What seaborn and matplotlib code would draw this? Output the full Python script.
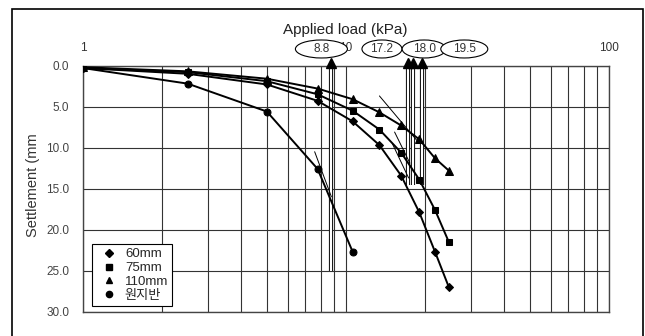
import numpy as np
import seaborn as sns
import matplotlib.pyplot as plt
from matplotlib.patches import Ellipse, Rectangle
from matplotlib.lines import Line2D
from matplotlib.ticker import NullFormatter
from matplotlib.transforms import ScaledTranslation

# load steps (kPa) and settlements (mm)
load = [1, 2.5, 5, 7.8, 10.6, 13.4, 16.2, 19.0, 21.8, 24.6]
settle_60 = [0.3, 1.0, 2.3, 4.3, 6.8, 9.7, 13.4, 17.9, 22.7, 27.0]
settle_75 = [0.3, 0.8, 1.9, 3.5, 5.5, 7.8, 10.6, 13.9, 17.6, 21.5]
settle_110 = [0.2, 0.7, 1.6, 2.8, 4.1, 5.7, 7.3, 9.0, 11.3, 12.8]
load_ground = [1, 2.5, 5, 7.8, 10.6]
settle_ground = [0.3, 2.2, 5.6, 12.6, 22.7]

# yield loads marked with arrows
yield_loads = [8.8, 17.2, 18.0, 19.5]
yield_labels = ['8.8', '17.2', '18.0', '19.5']
arrow_bottom = [25.0, 14.6, 14.6, 14.6]
label_shift_px = [-10, -26, 11, 42]
ellipse_w_px = [52, 40, 44, 47]

# thin tangent lines
tangent_x = [[7.6, 8.8], [13.4, 18.8], [15.3, 17.5], [15.0, 17.3]]
tangent_y = [[10.5, 16.0], [3.7, 9.3], [8.1, 11.9], [9.5, 13.7]]

sns.set_style('white')
plt.rcParams['font.family'] = ['Liberation Sans', 'Noto Sans CJK KR', 'DejaVu Sans']

fig = plt.figure(figsize=(6.45, 3.36), dpi=100)
ax = fig.add_axes([0.1287, 0.0723, 0.8155, 0.7325])
ax.set_xscale('log')

series = [
    (load, settle_60, 'D', 4.5, '60mm'),
    (load, settle_75, 's', 5.0, '75mm'),
    (load, settle_110, '^', 5.5, '110mm'),
    (load_ground, settle_ground, 'o', 5.0, '원지반'),
]
for xs, ys, m, ms, lab in series:
    sns.lineplot(x=xs, y=ys, ax=ax, color='black', lw=1.4, marker=m,
                 markersize=ms, markeredgecolor='black', zorder=4)

for tx, ty in zip(tangent_x, tangent_y):
    ax.plot(tx, ty, color='black', lw=0.7, zorder=3)

for val, bot in zip(yield_loads, arrow_bottom):
    ax.plot([val, val], [bot, 0], color='black', lw=3.0, zorder=2,
            solid_capstyle='butt')
    ax.plot([val, val], [bot, 0], color='white', lw=1.6, zorder=2.1,
            solid_capstyle='butt')
    ax.plot([val], [-0.3], marker='^', ms=7.5, color='black',
            clip_on=False, zorder=5)

ax.set_xlim(1, 100)
ax.set_ylim(30, 0)
ax.set_yticks(np.arange(0, 31, 5))
ax.set_yticklabels([f'{v:.1f}' for v in np.arange(0, 31, 5)])
ax.xaxis.set_ticks_position('top')
ax.set_xticks([1, 10, 100])
ax.set_xticklabels(['1', '10', '100'])
ax.xaxis.set_minor_formatter(NullFormatter())
ax.tick_params(axis='x', which='both', length=0, pad=8, labelsize=8.5,
               labelcolor='#333333')
ax.tick_params(axis='y', length=2, pad=8, labelsize=8.5, labelcolor='#444444')
ax.grid(which='both', axis='x', color='#333333', lw=0.8)
ax.grid(which='major', axis='y', color='#333333', lw=0.8)
for s in ax.spines.values():
    s.set_color('#444444')
    s.set_linewidth(1.0)
ax.set_xlabel('')
ax.set_ylabel('')

handles = [Line2D([], [], ls='none', marker=m, ms=ms - 0.5, color='black')
           for _, _, m, ms, _ in series]
labels = [lab for *_, lab in series]
leg = ax.legend(handles, labels, loc='lower left', bbox_to_anchor=(0.017, 0.024),
                borderaxespad=0, frameon=True, fancybox=False, framealpha=1,
                edgecolor='black', fontsize=9.5, handlelength=2.0,
                handletextpad=0.2, labelspacing=0.12, borderpad=0.3)
leg.get_frame().set_linewidth(0.8)
leg.set_zorder(10)

# ellipse labels above the arrows
for val, lab, dx, w in zip(yield_loads, yield_labels, label_shift_px, ellipse_w_px):
    tr = fig.dpi_scale_trans + ScaledTranslation(val, 0, ax.transData)
    e = Ellipse((dx / 100, 0.166), w / 100, 0.18, transform=tr,
                fc='white', ec='black', lw=0.8, zorder=6)
    fig.add_artist(e)
    fig.text(dx / 100, 0.166, lab, transform=tr, ha='center', va='center',
             fontsize=8.5, color='#333333', zorder=7)

fig.text(0.536, 0.911, 'Applied load (kPa)', ha='center', va='center',
         fontsize=11, color='#222222')
fig.text(0.051, 0.449, 'Settlement (mm', rotation=90, ha='center',
         va='center', fontsize=10.5, color='#333333')

fig.add_artist(Rectangle((12 / 645, -0.05), 631 / 645, 0.973 + 0.05,
                         transform=fig.transFigure, fill=False,
                         ec='black', lw=1.2))

fig.savefig('out.png', dpi=100)
